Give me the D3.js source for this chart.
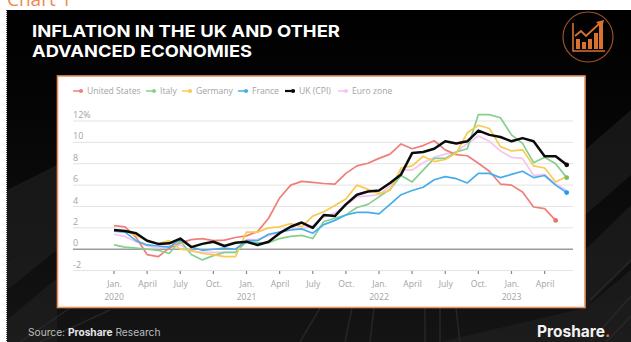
<!DOCTYPE html>
<html>
<head>
<meta charset="utf-8">
<script src="https://cdn.jsdelivr.net/npm/d3@7/dist/d3.min.js"></script>
<style>
html,body{margin:0;padding:0;background:#fff;}
svg{display:block;}
</style>
</head>
<body>
<svg id="chart" width="631" height="342"></svg>
<script>
// Monthly inflation readings, year on year, January 2020 to June 2023
const startMonth = [2020, 0];
const unitedStates = [2.2,2.1,1.1,-0.5,-0.7,0.1,0.6,0.9,1.0,0.8,0.85,1.1,1.25,1.65,2.9,4.8,6.0,6.35,6.25,6.15,6.1,7.1,7.8,8.05,8.5,8.9,9.85,9.4,9.7,10.15,9.3,8.85,8.75,8.05,7.3,6.1,6.0,5.35,3.95,3.8,2.7];
const italy = [0.4,0.2,0.1,0.0,-0.1,-0.4,0.8,-0.5,-1.0,-0.6,-0.3,-0.3,0.7,0.6,0.6,1.0,1.2,1.3,1.0,2.6,2.9,3.2,3.9,4.2,4.9,5.6,6.9,6.3,7.4,8.5,8.5,9.1,9.4,12.6,12.6,12.3,10.7,9.9,8.1,8.6,8.0,6.7];
const germany = [1.7,1.7,1.3,0.8,0.5,0.8,0.0,-0.1,-0.4,-0.5,-0.7,-0.7,1.6,1.6,2.0,2.1,2.4,2.1,3.1,3.5,4.1,4.7,6.0,5.6,5.2,5.5,7.6,7.8,8.7,8.2,8.4,9.0,10.9,11.6,11.3,9.6,9.2,9.3,7.8,7.6,6.3,6.8];
const france = [1.7,1.6,0.8,0.4,0.3,0.2,0.9,0.2,-0.1,0.0,0.1,0.0,0.8,0.8,1.4,1.6,1.8,1.9,1.5,2.3,2.7,3.2,3.45,3.45,3.3,4.2,5.1,5.5,5.8,6.5,6.8,6.6,6.2,7.1,7.1,6.7,7.0,7.3,6.7,6.9,6.0,5.3];
const ukCpi = [1.8,1.7,1.5,0.8,0.5,0.55,1.0,0.2,0.5,0.7,0.3,0.6,0.7,0.4,0.7,1.5,2.1,2.5,2.0,3.2,3.1,4.2,5.1,5.4,5.5,6.2,7.0,9.0,9.1,9.4,10.1,9.9,10.1,11.1,10.7,10.5,10.1,10.4,10.1,8.7,8.7,7.9];
const euroZone = [1.4,1.2,0.7,0.3,0.1,0.3,0.4,-0.2,-0.3,-0.3,-0.3,-0.3,0.9,0.9,1.3,1.6,2.0,1.9,2.2,3.0,3.4,4.1,4.9,5.0,5.1,5.9,7.4,7.4,8.1,8.6,8.9,9.1,9.9,10.6,10.1,9.2,8.6,8.5,6.9,7.0,6.1,5.5];

const yTicks = [-2,0,2,4,6,8,10,12];
const xTickMonths = [0,3,6,9,12,15,18,21,24,27,30,33,36,39];
const monthNames = {0:"Jan.",3:"April",6:"July",9:"Oct."};

const seriesNames = ["United States","Italy","Germany","France","UK (CPI)","Euro zone"];
const seriesColors = ["#ef7f78","#86cf8e","#f8cb50","#45aeea","#0b0b0b","#f6c3f3"];
const seriesValues = [unitedStates,italy,germany,france,ukCpi,euroZone];
const legendX = [73,146,182,238,285,338];

const titleLines = ["INFLATION IN THE UK AND OTHER","ADVANCED ECONOMIES"];
const titleWidths = [308,220];

const svg = d3.select("#chart");
const defs = svg.append("defs");

const bg = defs.append("linearGradient").attr("id","bgFade").attr("x1",0).attr("y1",0).attr("x2",0).attr("y2",1);
bg.append("stop").attr("offset","0").attr("stop-color","#000");
bg.append("stop").attr("offset","0.3").attr("stop-color","#050505");
bg.append("stop").attr("offset","1").attr("stop-color","#141414");

// Slide heading, running off the top of the page
svg.append("text").attr("x",7).attr("y",6).attr("fill","#ee8a4e")
  .style("font","400 19px 'Open Sans'").text("Chart 1");

// Dark slide background with its dotted left edge
svg.append("rect").attr("x",7).attr("y",10).attr("width",624).attr("height",332).attr("fill","url(#bgFade)");
svg.append("line").attr("x1",6.5).attr("x2",6.5).attr("y1",10).attr("y2",342)
  .attr("stroke","#555").attr("stroke-width",1).attr("stroke-dasharray","1 1");

// Soft building shapes behind the card
const shapes = [
  "7,190 57,165 57,225 7,262",
  "7,262 57,225 57,250 7,290",
  "7,342 7,320 57,278 57,342",
  "585,150 631,110 631,175 585,215",
  "585,250 631,205 631,262 585,308",
  "440,342 585,308 631,270 631,342"
];
svg.append("g").selectAll("polygon").data(shapes).join("polygon")
  .attr("points",d=>d).attr("fill","#222").attr("opacity",0.6);

// Faint skyline streaks in the lower part of the slide
const streaks = [[20,342,70,308],[40,342,110,310],[300,342,320,308],[345,342,352,308],[370,342,374,308],[425,342,425,308],[440,342,440,308],[460,342,456,308],[590,342,631,296],[606,342,631,316],[590,300,631,260]];
svg.append("g").selectAll("line").data(streaks).join("line")
  .attr("x1",d=>d[0]).attr("y1",d=>d[1]).attr("x2",d=>d[2]).attr("y2",d=>d[3])
  .attr("stroke","#2e2e2e").attr("stroke-width",1.5).attr("opacity",0.7);

// Title
svg.append("g").selectAll("text").data(titleLines).join("text")
  .attr("x",32).attr("y",(d,i)=>37+i*20)
  .attr("fill","#fff")
  .attr("textLength",(d,i)=>titleWidths[i]).attr("lengthAdjust","spacingAndGlyphs")
  .style("font","700 16.6px Inter").text(d=>d);

// Round icon with bars and a rising arrow
const iconOrange = "#d9722f";
const icon = svg.append("g").attr("transform","translate(588,37)").attr("fill","none").attr("stroke",iconOrange);
icon.append("circle").attr("r",25).attr("stroke-width",1.2).attr("stroke","#9c5128");
icon.append("polyline").attr("points","-15,-14 -15,14 17,14").attr("stroke-width",1.6);
const iconBars = [[-12,2],[-6,5],[0,2],[6,-4],[11,-12]];
icon.selectAll("rect").data(iconBars).join("rect")
  .attr("x",d=>d[0]).attr("y",d=>d[1]).attr("width",4).attr("height",d=>12-d[1])
  .attr("fill",iconOrange).attr("stroke","none");
icon.append("polyline").attr("points","-13,-1 -7,-6 -2,-1 12,-14").attr("stroke-width",1.8);
icon.append("polygon").attr("points","16,-17 8,-15 14,-9").attr("fill",iconOrange).attr("stroke","none");

// White chart card with its orange edge
svg.append("rect").attr("x",57.5).attr("y",76).attr("width",527.5).attr("height",231.5)
  .attr("fill","#fff").attr("stroke","#e8955b").attr("stroke-width",1.6);

const x = d3.scaleLinear().domain([0,41]).range([114,566.7]);
const y = d3.scaleLinear().domain([-2,12]).range([270.6,121]);

const grey = "#a3a3a3";

// Horizontal gridlines and value labels
const yAxis = d3.axisLeft(y).tickValues(yTicks).tickSize(0).tickFormat(d=>d===12?"12%":d);
const yG = svg.append("g").attr("transform","translate(73,0)").call(yAxis);
yG.select(".domain").remove();
yG.selectAll("text").attr("x",0).attr("dy","-0.38em").attr("text-anchor","start")
  .attr("fill",grey).style("font","400 9px 'Open Sans'");
svg.append("g").selectAll("line").data(yTicks.filter(d=>d!==0)).join("line")
  .attr("x1",73).attr("x2",573).attr("y1",d=>y(d)).attr("y2",d=>y(d))
  .attr("stroke","#e3e3e3").attr("stroke-width",1);

// Month ticks and labels, years on a second row
const xAxis = d3.axisBottom(x).tickValues(xTickMonths).tickSize(0)
  .tickFormat(d=>monthNames[(startMonth[1]+d)%12]);
const xG = svg.append("g").attr("transform","translate(0,271)").call(xAxis);
xG.select(".domain").remove();
xG.selectAll("text").attr("y",16).attr("dy",0).attr("fill",grey).style("font","400 8.6px 'Open Sans'");
svg.append("g").selectAll("line").data(xTickMonths).join("line")
  .attr("x1",d=>x(d)).attr("x2",d=>x(d)).attr("y1",271).attr("y2",274)
  .attr("stroke","#888").attr("stroke-width",1.2);
svg.append("g").selectAll("text").data(xTickMonths.filter(d=>d%12===0)).join("text")
  .attr("x",d=>x(d)).attr("y",300).attr("text-anchor","middle")
  .attr("fill",grey).style("font","400 8.6px 'Open Sans'")
  .text(d=>startMonth[0]+d/12);

// Zero baseline
svg.append("line").attr("x1",73).attr("x2",573).attr("y1",y(0)).attr("y2",y(0))
  .attr("stroke","#9b9b9b").attr("stroke-width",1.6);

// Inflation lines; the UK is drawn last and heavier
const line = d3.line().x((d,i)=>x(i)).y(d=>y(d));
const order = [5,0,1,2,3,4];
svg.append("g").attr("fill","none").selectAll("path").data(order).join("path")
  .attr("d",k=>line(seriesValues[k]))
  .attr("stroke",k=>seriesColors[k])
  .attr("stroke-width",k=>k===4?2.5:1.7)
  .attr("stroke-linejoin","round");

// End-of-line dots
const endColors = ["#ef6f68","#7cc05a",null,"#1d9fe8","#0b0b0b",null];
svg.append("g").selectAll("circle").data(order.filter(k=>endColors[k])).join("circle")
  .attr("cx",k=>x(seriesValues[k].length-1))
  .attr("cy",k=>y(seriesValues[k][seriesValues[k].length-1]))
  .attr("r",2.4).attr("fill",k=>endColors[k]);

// Legend
const lg = svg.append("g").selectAll("g").data(seriesNames).join("g")
  .attr("transform",(d,i)=>`translate(${legendX[i]},91)`);
lg.append("line").attr("x1",0).attr("x2",10).attr("y1",0).attr("y2",0)
  .attr("stroke",(d,i)=>seriesColors[i]).attr("stroke-width",(d,i)=>i===4?2.2:1.5);
lg.append("circle").attr("cx",8).attr("cy",0).attr("r",2).attr("fill",(d,i)=>seriesColors[i]);
lg.append("text").attr("x",14).attr("y",3).attr("fill",grey)
  .style("font","400 8.6px 'Open Sans'").text(d=>d);

// Footer
const src = svg.append("text").attr("x",28).attr("y",336).attr("fill","#bdbdbd")
  .style("font","400 10.2px Inter");
src.append("tspan").text("Source: ");
src.append("tspan").attr("font-weight",700).attr("fill","#e6e6e6").text("Proshare");
src.append("tspan").text(" Research");

const brand = svg.append("text").attr("x",537).attr("y",337).attr("fill","#f2f2f2")
  .style("font","700 15.5px Inter");
brand.append("tspan").text("Proshare");
brand.append("tspan").attr("fill","#e8752a").text(".");
</script>
</body>
</html>
